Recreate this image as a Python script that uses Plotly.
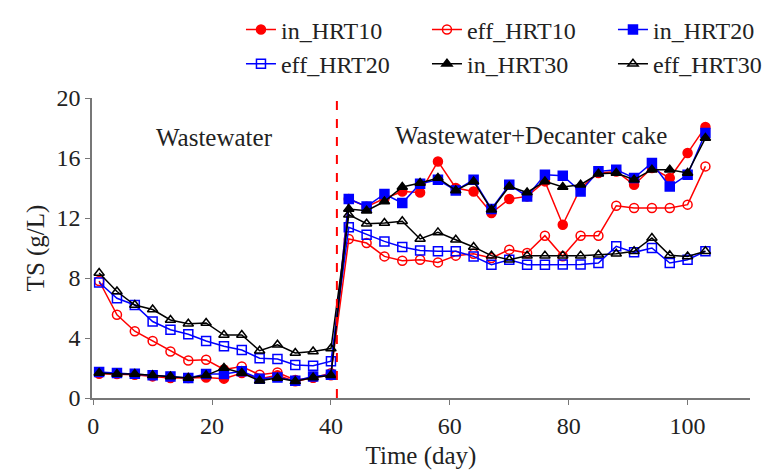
import plotly.graph_objects as go

days = [1, 4, 7, 10, 13, 16, 19, 22, 25, 28, 31, 34, 37, 40,
        43, 46, 49, 52, 55, 58, 61, 64, 67, 70, 73, 76, 79, 82, 85, 88, 91, 94, 97, 100, 103]

in_HRT10 = [1.62, 1.6, 1.55, 1.44, 1.33, 1.33, 1.37, 1.29, 1.67, 1.29, 1.51, 1.11, 1.37, 1.51,
            13.27, 12.75, 13.3, 13.77, 13.7, 15.77, 14.0, 13.77, 12.33, 13.27, 13.44, 14.44, 11.55, 14.0,
            15.0, 15.1, 14.22, 15.33, 14.67, 16.33, 18.07]
eff_HRT10 = [7.8, 5.55, 4.45, 3.8, 3.1, 2.5, 2.55, 1.9, 2.1, 1.55, 1.7, 1.2, 1.35, 1.65,
             10.6, 10.33, 9.44, 9.15, 9.22, 9.04, 9.49, 9.62, 9.33, 9.89, 9.67, 10.82, 9.45, 10.82,
             10.82, 12.82, 12.67, 12.67, 12.67, 12.89, 15.44]
in_HRT20 = [1.73, 1.67, 1.62, 1.51, 1.44, 1.33, 1.6, 1.6, 1.78, 1.29, 1.37, 1.15, 1.44, 1.55,
            13.27, 12.77, 13.6, 13.0, 14.29, 14.55, 13.84, 14.55, 12.6, 14.22, 13.44, 14.89, 14.82, 13.77,
            15.11, 15.22, 14.67, 15.67, 14.1, 14.89, 17.67]
eff_HRT20 = [7.7, 6.65, 6.2, 5.1, 4.55, 4.25, 3.8, 3.45, 3.2, 2.65, 2.6, 2.2, 2.15, 2.45,
             11.38, 10.89, 10.44, 10.07, 9.84, 9.78, 9.78, 9.44, 8.89, 9.22, 8.89, 8.89, 8.9, 8.9,
             9.0, 10.11, 9.71, 10.0, 9.0, 9.22, 9.78]
in_HRT30 = [1.67, 1.6, 1.6, 1.51, 1.44, 1.33, 1.51, 2.0, 1.67, 1.15, 1.33, 1.11, 1.37, 1.51,
            12.6, 12.49, 13.1, 14.07, 14.33, 14.67, 13.84, 14.44, 12.55, 14.1, 13.7, 14.44, 14.07, 14.22,
            14.95, 15.0, 14.55, 15.22, 15.22, 15.0, 17.33]
eff_HRT30 = [8.33, 7.1, 6.2, 5.9, 5.2, 4.95, 5.0, 4.2, 4.2, 3.15, 3.55, 3.0, 3.1, 3.3,
             12.22, 11.62, 11.67, 11.78, 10.6, 11.04, 10.55, 10.07, 9.49, 9.22, 9.49, 9.49, 9.49, 9.49,
             9.55, 9.62, 9.78, 10.67, 9.51, 9.44, 9.78]

switch_day = 41
x_ticks = [0, 20, 40, 60, 80, 100]
y_ticks = [0, 4, 8, 12, 16, 20]

RED = "#FF0000"
BLUE = "#0000FF"
BLACK = "#000000"
FONT = "Liberation Serif"
TXT = "#222222"

series = [
    ("in_HRT10", in_HRT10, RED, "circle"),
    ("eff_HRT10", eff_HRT10, RED, "circle-open"),
    ("in_HRT20", in_HRT20, BLUE, "square"),
    ("eff_HRT20", eff_HRT20, BLUE, "square-open"),
    ("in_HRT30", in_HRT30, BLACK, "triangle-up"),
    ("eff_HRT30", eff_HRT30, BLACK, "triangle-up-open"),
]

fig = go.Figure()
for name, vals, color, sym in series:
    fig.add_trace(go.Scatter(
        x=days, y=vals, name=name, mode="lines+markers",
        line=dict(color=color, width=1.5),
        marker=dict(symbol=sym, size=9, color=color, line=dict(color=color, width=1.5)),
    ))

fig.add_shape(type="line", xref="x", yref="y", x0=switch_day, x1=switch_day, y0=0, y1=20,
              line=dict(color=RED, width=2, dash="dash"))

fig.add_annotation(x=20.4, y=17.4, xref="x", yref="y", text="Wastewater", showarrow=False,
                   font=dict(family=FONT, size=25, color=TXT))
fig.add_annotation(x=73.7, y=17.5, xref="x", yref="y", text="Wastewater+Decanter cake", showarrow=False,
                   font=dict(family=FONT, size=25, color=TXT))

fig.update_layout(
    width=776, height=463,
    margin=dict(l=84, r=34, t=90, b=73, autoexpand=False),
    paper_bgcolor="white", plot_bgcolor="white",
    font=dict(family=FONT, size=24, color=TXT),
    showlegend=True,
    legend=dict(orientation="h", x=0.2264, xanchor="left", y=1.302, yanchor="top",
                entrywidth=141, entrywidthmode="pixels",
                font=dict(family=FONT, size=24, color=TXT),
                bgcolor="rgba(0,0,0,0)", tracegroupgap=0),
    xaxis=dict(range=[-0.2, 110.5], tickvals=x_ticks, ticks="outside", ticklen=5,
               showline=True, linecolor="#777", linewidth=1.5, tickcolor="#777", showgrid=False,
               zeroline=False, tickfont=dict(size=24),
               title=dict(text="Time (day)", standoff=9, font=dict(size=25))),
    yaxis=dict(range=[0, 20], tickvals=y_ticks, ticks="outside", ticklen=5,
               showline=True, linecolor="#777", linewidth=1.5, tickcolor="#777", showgrid=False,
               zeroline=False, tickfont=dict(size=24),
               title=dict(text="TS (g/L)", standoff=5, font=dict(size=25))),
)

fig.write_html("out.html")
